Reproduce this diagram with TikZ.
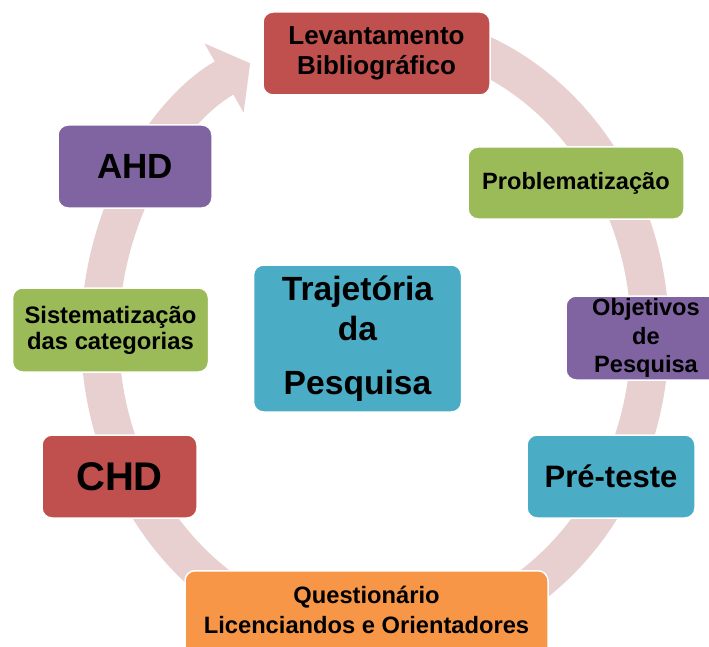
\documentclass[tikz,border=0pt]{standalone}
\usepackage{fontspec}
\setmainfont{Liberation Sans}
\usetikzlibrary{arrows.meta}

\definecolor{boxred}{HTML}{C0504D}
\definecolor{boxgreen}{HTML}{9BBB59}
\definecolor{boxpurple}{HTML}{8064A2}
\definecolor{boxaqua}{HTML}{4BACC6}
\definecolor{boxorange}{HTML}{F79646}
\definecolor{ringpink}{HTML}{E8D0D1}

\newcommand{\boxfont}[2]{\bfseries\fontsize{#1}{#2}\selectfont}

\begin{document}
\begin{tikzpicture}[x=1pt,y=1pt,
stepbox/.style={draw=white, line width=1.5pt, rounded corners=10pt, align=center, inner sep=0pt},
ringarrow/.style={line width=38pt, ringpink, -{Triangle[width=78pt,length=30pt]}}]

\useasboundingbox (0,0) rectangle (709,-647);
\clip (0,0) rectangle (709,-647);

% the cycle
\coordinate (mid) at (375,-335);
\draw[ringarrow] (mid) ++(80:275pt and 305pt)
    arc[start angle=80, end angle=-243, x radius=275pt, y radius=305pt];

\node[stepbox, fill=boxaqua, minimum width=208pt, minimum height=147pt, font=\boxfont{33.6}{40}]
    (traj) at (357.5,-338.5) {Trajetória\\da\\[14pt]Pesquisa};

\node[stepbox, fill=boxred, minimum width=227pt, minimum height=83pt, font=\boxfont{26}{30}]
    (lev) at (376.5,-53.5) {Levantamento\\Bibliográfico};
\node[stepbox, fill=boxgreen, minimum width=216pt, minimum height=72pt, font=\boxfont{23.6}{28}]
    (prob) at (576,-183) {Problematização};
\node[stepbox, fill=boxpurple, minimum width=160pt, minimum height=84pt, font=\boxfont{23.6}{28.5}]
    (obj) at (646,-338) {Objetivos\\de\\Pesquisa};
\node[stepbox, fill=boxaqua, minimum width=168pt, minimum height=83pt, font=\boxfont{31}{36}]
    (pre) at (611,-476.5) {Pré-teste};
\node[stepbox, fill=boxorange, minimum width=363pt, minimum height=100pt, anchor=north, font=\boxfont{23.7}{30}]
    (ques) at (366.5,-570) {Questionário\\Licenciandos e Orientadores\\[-8pt]\mbox{}};
\node[stepbox, fill=boxred, minimum width=155pt, minimum height=83pt, font=\boxfont{40}{46}]
    (chd) at (119.5,-476.5) {CHD};
\node[stepbox, fill=boxgreen, minimum width=196pt, minimum height=84pt, font=\boxfont{23.8}{26}]
    (sis) at (110.5,-330) {Sistematização\\das categorias};
\node[stepbox, fill=boxpurple, minimum width=154pt, minimum height=83pt, font=\boxfont{35}{40}]
    (ahd) at (135,-166.5) {AHD};

\end{tikzpicture}
\end{document}
